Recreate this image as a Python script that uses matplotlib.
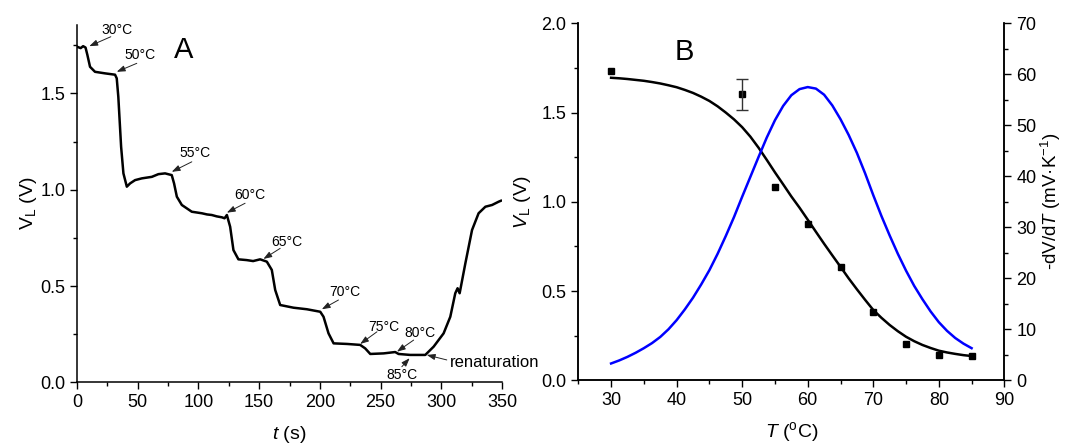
import numpy as np
import matplotlib.pyplot as plt
from matplotlib.ticker import MultipleLocator

plt.rcParams['font.family'] = ['Liberation Sans', 'DejaVu Sans']
plt.rcParams['mathtext.fontset'] = 'custom'
plt.rcParams['mathtext.rm'] = 'Liberation Sans'
plt.rcParams['mathtext.it'] = 'Liberation Sans:italic'

# panel A: V_L trace over time
t_trace = [0, 3, 5, 7, 8.5, 10.7, 14.8, 23, 31.3, 32.7, 34, 36.3, 38.2, 41, 43.7,
           47.8, 53.3, 61.6, 67, 72.5, 78, 79.9, 82.2, 86.3, 94.5, 102.8, 107, 111,
           115, 119.3, 121.5, 123.4, 126.1, 128.8, 132.9, 139.8, 145, 150.8, 156.3,
           160.4, 163.2, 167.3, 178.3, 189.3, 200.3, 203, 207.1, 211.3, 222.3,
           233.2, 237.3, 241.5, 252.5, 262, 264.8, 274.4, 286.8, 293.7, 301.9,
           307.4, 311.5, 313.4, 315.1, 319.8, 325.3, 330.7, 336.3, 341.8, 347.2, 349.1]
v_trace = [1.742, 1.735, 1.745, 1.738, 1.70, 1.638, 1.612, 1.604, 1.597, 1.578, 1.482,
           1.223, 1.085, 1.016, 1.033, 1.05, 1.059, 1.067, 1.081, 1.085, 1.076, 1.033,
           0.964, 0.921, 0.886, 0.878, 0.872, 0.869, 0.862, 0.857, 0.852, 0.869, 0.808,
           0.687, 0.639, 0.635, 0.630, 0.639, 0.627, 0.584, 0.48, 0.402, 0.388, 0.38,
           0.367, 0.341, 0.255, 0.203, 0.2, 0.195, 0.177, 0.148, 0.151, 0.158, 0.148,
           0.143, 0.143, 0.186, 0.255, 0.341, 0.463, 0.489, 0.463, 0.618, 0.791,
           0.878, 0.912, 0.921, 0.938, 0.943]

# annotations panel A: label, text pos, arrow tail, arrow tip
ann_labels = ['30°C', '50°C', '55°C', '60°C', '65°C', '70°C', '75°C', '80°C', '85°C']
ann_text = [(32.7, 1.828), (51.9, 1.697), (97.2, 1.189), (142.6, 0.973), (172.8, 0.730),
            (220.9, 0.471), (252.4, 0.289), (282.7, 0.255), (267.5, 0.039)]
ann_tail = [(27.8, 1.794), (49.2, 1.656), (94.5, 1.145), (138.4, 0.93), (167.3, 0.696),
            (215.3, 0.428), (247, 0.263), (277.2, 0.22), (267.5, 0.082)]
ann_tip = [(10.1, 1.745), (32.7, 1.612), (78, 1.093), (123.4, 0.881), (153.5, 0.641),
           (201.6, 0.38), (233.2, 0.2), (263.5, 0.16), (273.9, 0.126)]

# panel B: measured points
T_pts = [30, 50, 55, 60, 65, 70, 75, 80, 85]
V_pts = [1.735, 1.602, 1.083, 0.874, 0.636, 0.381, 0.202, 0.142, 0.136]
V_err = [0, 0.086, 0, 0, 0, 0, 0, 0, 0]

# sigmoid fit
T_fit = [30, 31.25, 32.5, 33.75, 35, 36.25, 37.5, 38.75, 40, 41.25, 42.5, 43.75, 45,
         46.25, 47.5, 48.75, 50, 51.25, 52.5, 53.75, 55, 56.25, 57.5, 58.75, 60, 61.25,
         62.5, 63.75, 65, 66.25, 67.5, 68.75, 70, 71.25, 72.5, 73.75, 75, 76.25, 77.5,
         78.75, 80, 81.25, 82.5, 83.75, 85]
V_fit = [1.695, 1.692, 1.688, 1.683, 1.678, 1.671, 1.663, 1.653, 1.642, 1.627, 1.610,
         1.589, 1.565, 1.535, 1.500, 1.462, 1.418, 1.365, 1.303, 1.235, 1.165, 1.098,
         1.030, 0.967, 0.900, 0.832, 0.765, 0.700, 0.636, 0.571, 0.510, 0.451, 0.394,
         0.350, 0.310, 0.275, 0.244, 0.219, 0.198, 0.181, 0.166, 0.156, 0.148, 0.141, 0.136]

# derivative -dV/dT (mV/K)
T_der = T_fit
D_der = [3.3, 3.9, 4.6, 5.4, 6.3, 7.3, 8.5, 10.0, 11.8, 13.9, 16.2, 18.8, 21.6, 24.8,
         28.3, 32.0, 36.0, 39.9, 43.8, 47.6, 51.0, 53.8, 55.9, 57.1, 57.5, 57.2, 56.0,
         53.9, 51.2, 48.1, 44.6, 40.6, 36.3, 32.2, 28.4, 24.8, 21.5, 18.5, 15.9, 13.5,
         11.4, 9.7, 8.3, 7.2, 6.3]

fig = plt.figure(figsize=(10.67, 4.46), dpi=100)

axA = fig.add_axes([0.0722, 0.1424, 0.3983, 0.8016])
axA.plot(t_trace, v_trace, color='black', lw=1.8)
axA.set_xlim(0, 350)
axA.set_ylim(0, 1.855)
axA.xaxis.set_major_locator(MultipleLocator(50))
axA.xaxis.set_minor_locator(MultipleLocator(25))
axA.yaxis.set_major_locator(MultipleLocator(0.5))
axA.yaxis.set_minor_locator(MultipleLocator(0.25))
axA.yaxis.set_major_formatter(plt.FuncFormatter(lambda v, p: f'{v:.1f}'))
axA.spines['top'].set_visible(False)
axA.spines['right'].set_visible(False)
axA.set_xlabel('$t$ (s)', fontsize=14, labelpad=9)
axA.set_ylabel('V$_\\mathrm{L}$ (V)', fontsize=14, labelpad=1)
axA.text(88, 1.725, 'A', fontsize=21, ha='center', va='center')

arrow = dict(arrowstyle='-|>,head_length=0.5,head_width=0.18', color='#222222', lw=0.7,
             shrinkA=0, shrinkB=0)
for lab, tp, tl, tip in zip(ann_labels, ann_text, ann_tail, ann_tip):
    axA.text(tp[0], tp[1], lab, fontsize=10, ha='center', va='center')
    axA.annotate('', xy=tip, xytext=tl, arrowprops=arrow)
axA.text(307.4, 0.103, 'renaturation', fontsize=12, ha='left', va='center')
axA.annotate('', xy=(288, 0.143), xytext=(304.5, 0.117), arrowprops=arrow)

axB = fig.add_axes([0.542, 0.1473, 0.3993, 0.8004])
axB.plot(T_fit, V_fit, color='black', lw=1.8)
axB.plot(T_pts, V_pts, 's', color='black', ms=5)
err_idx = [i for i, e in enumerate(V_err) if e > 0]
axB.errorbar([T_pts[i] for i in err_idx], [V_pts[i] for i in err_idx],
             yerr=[V_err[i] for i in err_idx], fmt='none', ecolor='#333333',
             elinewidth=1, capsize=4, capthick=1)
axB.set_xlim(25, 90)
axB.set_ylim(0, 2.0)
axB.xaxis.set_major_locator(MultipleLocator(10))
axB.xaxis.set_minor_locator(MultipleLocator(5))
axB.yaxis.set_major_locator(MultipleLocator(0.5))
axB.yaxis.set_minor_locator(MultipleLocator(0.25))
axB.yaxis.set_major_formatter(plt.FuncFormatter(lambda v, p: f'{v:.1f}'))
axB.spines['top'].set_visible(False)
axB.set_xlabel('$T$ ($^{\\mathrm{o}}$C)', fontsize=14, labelpad=8)
axB.set_ylabel('$V$$_\\mathrm{L}$ (V)', fontsize=14, labelpad=6)
axB.text(41.1, 1.84, 'B', fontsize=21, ha='center', va='center')

axR = axB.twinx()
axR.plot(T_der, D_der, color='#0000ff', lw=1.8)
axR.set_ylim(0, 70)
axR.yaxis.set_major_locator(MultipleLocator(10))
axR.yaxis.set_minor_locator(MultipleLocator(5))
axR.spines['top'].set_visible(False)
axR.set_ylabel('-dV/d$T$ (mV·K$^{-1}$)', fontsize=13.5, labelpad=2)

for ax in (axA, axB, axR):
    ax.tick_params(which='major', direction='out', length=5, width=1, labelsize=13)
    ax.tick_params(which='minor', direction='out', length=3, width=1)
    for s in ax.spines.values():
        s.set_linewidth(1.1)

fig.savefig('out.png', dpi=100)
